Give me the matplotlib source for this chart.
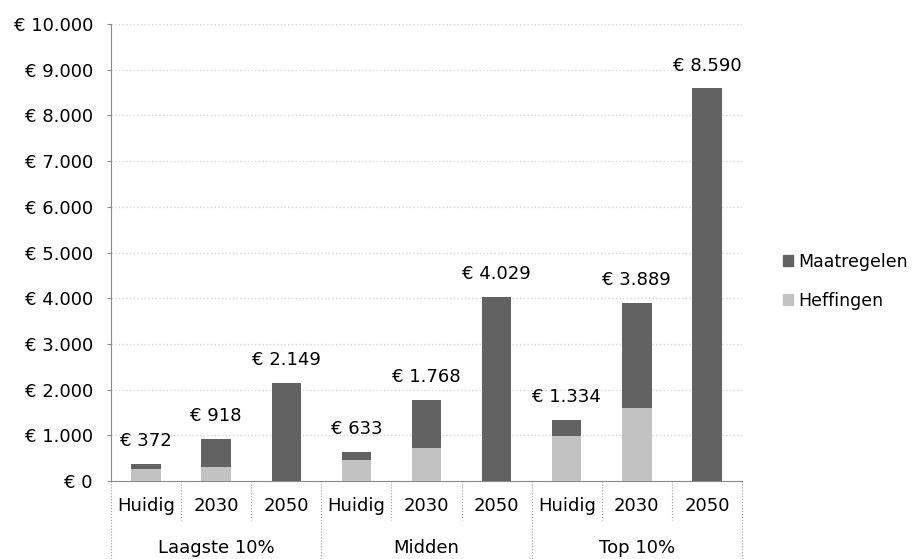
import numpy as np
import matplotlib
matplotlib.use('Agg')
import matplotlib.pyplot as plt
from matplotlib.patches import Patch

# Lastenverdeling per inkomensgroep (euro per huishouden)
groups = ['Laagste 10%', 'Midden', 'Top 10%']
periods = ['Huidig', '2030', '2050']
heffingen = [270, 300, 0, 470, 720, 0, 980, 1590, 0]
maatregelen = [102, 618, 2149, 163, 1048, 4029, 354, 2299, 8590]
totals = [372, 918, 2149, 633, 1768, 4029, 1334, 3889, 8590]
y_ticks = [0, 1000, 2000, 3000, 4000, 5000, 6000, 7000, 8000, 9000, 10000]


def euro(v):
    return '€ ' + f'{v:,.0f}'.replace(',', '.')


plt.rcParams['font.family'] = ['DejaVu Sans']
fig = plt.figure(figsize=(9.16, 5.59), dpi=100)
ax = fig.add_axes([0.1212, 0.1395, 0.6888, 0.8175])

x = np.arange(len(totals))
col_heff = '#c2c2c2'
col_maat = '#626262'
ax.bar(x, heffingen, width=0.42, color=col_heff, zorder=3)
ax.bar(x, maatregelen, width=0.42, bottom=heffingen, color=col_maat, zorder=3)

for xi, t in zip(x, totals):
    ax.annotate(euro(t), (xi, t), xytext=(0, 10), textcoords='offset points',
                ha='center', va='bottom', fontsize=13)

ax.set_xlim(-0.5, len(totals) - 0.5)
ax.set_ylim(0, 10000)
ax.set_yticks(y_ticks)
ax.set_yticklabels([euro(v) for v in y_ticks], fontsize=13)
ax.set_xticks([])
ax.yaxis.grid(True, color='#d4d4d4', linestyle=':', linewidth=1, zorder=0)
for s in ['top', 'right']:
    ax.spines[s].set_visible(False)
ax.spines['left'].set_color('#8a8a8a')
ax.spines['bottom'].set_color('#8a8a8a')
ax.tick_params(axis='y', length=3, color='#8a8a8a', pad=10)

# category table under the axis
trans = ax.get_xaxis_transform()
for i, xi in enumerate(x):
    ax.text(xi, -0.055, periods[i % 3], transform=trans, ha='center', va='center', fontsize=13)
for g, name in enumerate(groups):
    ax.text(3 * g + 1, -0.146, name, transform=trans, ha='center', va='center', fontsize=13)
for b in np.arange(-0.5, len(totals), 1.0):
    bottom = -0.172 if (b + 0.5) % 3 == 0 else -0.085
    ax.plot([b, b], [0, bottom], transform=trans, color='#9a9a9a', linewidth=0.8,
            linestyle=':', clip_on=False)

handles = [Patch(color=col_maat, label='Maatregelen'), Patch(color=col_heff, label='Heffingen')]
fig.legend(handles=handles, loc='center left', bbox_to_anchor=(0.838, 0.497), frameon=False,
           fontsize=12.5, handlelength=0.55, handleheight=0.55, handletextpad=0.3, labelspacing=1.2)

fig.savefig('out.png', dpi=100)
